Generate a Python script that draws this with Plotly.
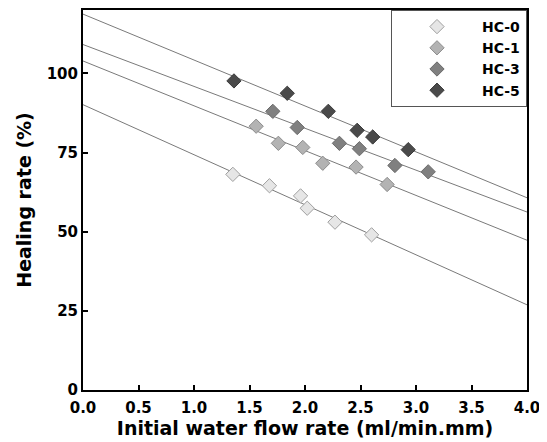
import plotly.graph_objects as go

series_names = ["HC-0", "HC-1", "HC-3", "HC-5"]

hc0_x = [1.35, 1.68, 1.96, 2.02, 2.27, 2.60]
hc0_y = [68.1, 64.5, 61.3, 57.4, 53.0, 49.0]
hc1_x = [1.56, 1.76, 1.98, 2.16, 2.46, 2.74]
hc1_y = [83.3, 77.9, 76.6, 71.6, 70.4, 64.9]
hc3_x = [1.71, 1.93, 2.31, 2.49, 2.81, 3.11]
hc3_y = [88.0, 82.9, 77.9, 76.2, 70.9, 68.9]
hc5_x = [1.36, 1.84, 2.21, 2.47, 2.61, 2.93]
hc5_y = [97.6, 93.7, 88.0, 82.0, 79.9, 75.9]

fit_x = [0.0, 4.0]
fit_hc0 = [90.1, 26.9]
fit_hc1 = [103.9, 47.3]
fit_hc3 = [109.1, 56.2]
fit_hc5 = [118.7, 60.7]

x_ticks = [0.0, 0.5, 1.0, 1.5, 2.0, 2.5, 3.0, 3.5, 4.0]
y_ticks = [0, 25, 50, 75, 100]

fills = ["#e6e6e6", "#b3b3b3", "#808080", "#4a4a4a"]
outlines = ["#a0a0a0", "#8c8c8c", "#6a6a6a", "#3a3a3a"]

xs = [hc0_x, hc1_x, hc3_x, hc5_x]
ys = [hc0_y, hc1_y, hc3_y, hc5_y]
fits = [fit_hc0, fit_hc1, fit_hc3, fit_hc5]

fig = go.Figure()
for f in fits:
    fig.add_trace(go.Scatter(x=fit_x, y=f, mode="lines",
                             line=dict(color="#7a7a7a", width=1),
                             showlegend=False, hoverinfo="skip"))
for name, x, y, fc, oc in zip(series_names, xs, ys, fills, outlines):
    fig.add_trace(go.Scatter(x=x, y=y, mode="markers", name=name,
                             marker=dict(symbol="diamond", size=11, color=fc,
                                         line=dict(color=oc, width=1))))

font_family = "DejaVu Sans, Liberation Sans, Arial, sans-serif"
fig.update_layout(
    width=547, height=442,
    margin=dict(l=75, r=28, t=0, b=60),
    plot_bgcolor="white", paper_bgcolor="white",
    font=dict(family=font_family, color="black"),
    showlegend=True,
    legend=dict(x=1, y=1, xanchor="right", yanchor="top",
                bordercolor="#555555", borderwidth=1, bgcolor="white",
                font=dict(size=14, family=font_family, color="black", weight="bold"),
                itemwidth=80),
)
fig.update_xaxes(range=[0, 4], tickvals=x_ticks, ticktext=[f"{v:.1f}" for v in x_ticks],
                 ticks="inside", ticklen=5, tickwidth=1.5, tickcolor="black",
                 showline=True, linecolor="black", linewidth=2, mirror=True,
                 showgrid=False, zeroline=False, ticklabelstandoff=3,
                 tickfont=dict(size=15, weight="bold"),
                 title=dict(text="Initial water flow rate (ml/min.mm)",
                            font=dict(size=19, weight="bold"), standoff=0))
fig.update_yaxes(range=[0, 120], tickvals=y_ticks,
                 ticks="inside", ticklen=5, tickwidth=1.5, tickcolor="black",
                 showline=True, linecolor="black", linewidth=2, mirror=True,
                 showgrid=False, zeroline=False,
                 tickfont=dict(size=15, weight="bold"),
                 title=dict(text="Healing rate (%)",
                            font=dict(size=19, weight="bold"), standoff=10))

fig.write_html("out.html")
